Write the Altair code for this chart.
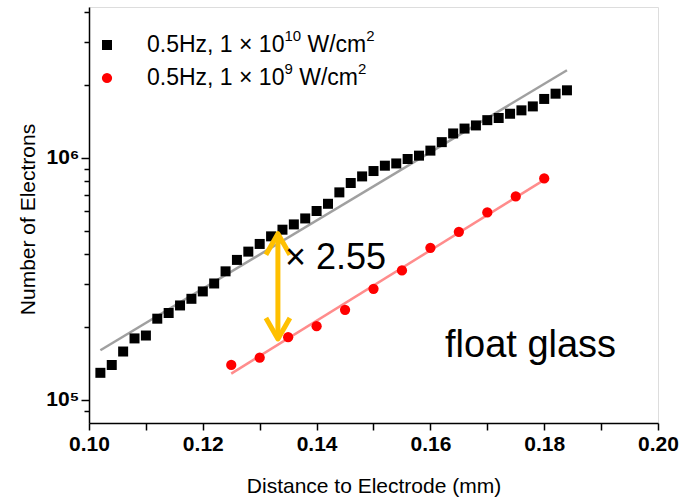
import altair as alt
import pandas as pd

# Electron counts vs. distance, 1e10 W/cm^2 pulses (black squares)
dist_high = [0.102, 0.104, 0.106, 0.108, 0.110, 0.112, 0.114, 0.116, 0.118, 0.120,
             0.122, 0.124, 0.126, 0.128, 0.130, 0.132, 0.134, 0.136, 0.138, 0.140,
             0.142, 0.144, 0.146, 0.148, 0.150, 0.152, 0.154, 0.156, 0.158, 0.160,
             0.162, 0.164, 0.166, 0.168, 0.170, 0.172, 0.174, 0.176, 0.178, 0.180,
             0.182, 0.184]
elec_high = [1.29e5, 1.39e5, 1.58e5, 1.79e5, 1.84e5, 2.16e5, 2.28e5, 2.45e5, 2.61e5, 2.80e5,
             3.02e5, 3.39e5, 3.78e5, 4.09e5, 4.40e5, 4.73e5, 5.04e5, 5.30e5, 5.61e5, 6.02e5,
             6.45e5, 7.19e5, 7.86e5, 8.37e5, 8.81e5, 9.27e5, 9.47e5, 9.88e5, 1.02e6, 1.07e6,
             1.16e6, 1.26e6, 1.32e6, 1.36e6, 1.43e6, 1.46e6, 1.52e6, 1.57e6, 1.63e6, 1.75e6,
             1.84e6, 1.90e6]

# Electron counts vs. distance, 1e9 W/cm^2 pulses (red circles)
dist_low = [0.125, 0.130, 0.135, 0.140, 0.145, 0.150, 0.155, 0.160, 0.165, 0.170, 0.175, 0.180]
elec_low = [1.39e5, 1.49e5, 1.81e5, 2.01e5, 2.35e5, 2.87e5, 3.42e5, 4.24e5, 4.94e5, 5.94e5,
            6.92e5, 8.21e5]

# Exponential fit lines (end points)
fit_high_x = [0.102, 0.184]
fit_high_y = [1.60e5, 2.30e6]
fit_low_x = [0.125, 0.180]
fit_low_y = [1.28e5, 8.10e5]

# Ratio arrow between the two series
arrow_x = [0.1332, 0.1332]
arrow_y = [4.85e5, 1.78e5]
ratio_label = "\u00d7 2.55"
sample_label = "float glass"

legend_entries = [
    [("0.5Hz, 1 \u00d7 10", False), ("10", True), (" W/cm", False), ("2", True)],
    [("0.5Hz, 1 \u00d7 10", False), ("9", True), (" W/cm", False), ("2", True)],
]

x_ticks = [0.10, 0.11, 0.12, 0.13, 0.14, 0.15, 0.16, 0.17, 0.18, 0.19, 0.20]
y_ticks = [9e4, 1e5, 2e5, 3e5, 4e5, 5e5, 6e5, 7e5, 8e5, 9e5, 1e6, 2e6, 3e6, 4e6]

FONT = "Liberation Sans"
W_PLOT, H_PLOT = 569, 416

x_scale = alt.Scale(domain=[0.10, 0.20], nice=False, zero=False)
y_scale = alt.Scale(type="log", domain=[8e4, 4.2e6], nice=False)

x_axis = alt.Axis(
    values=x_ticks,
    labelExpr="round(datum.value * 100) % 2 == 0 ? format(datum.value, '.2f') : ''",
    title="Distance to Electrode (mm)",
    titleFont=FONT, titleFontSize=21, titleFontWeight="normal", titleColor="black",
    titleY=63, titleBaseline="middle",
    labelFont=FONT, labelFontSize=21, labelFontWeight="bold", labelColor="black",
    labelPadding=3, labelOverlap=False, labelFlush=False,
    tickSize=7, tickWidth=1.5, tickColor="black",
    domainColor="black", domainWidth=1.5, grid=False,
)
y_axis = alt.Axis(
    values=y_ticks,
    labelExpr="datum.value == 100000 ? '10\u2075' : datum.value == 1000000 ? '10\u2076' : ''",
    title="Number of Electrons",
    titleFont=FONT, titleFontSize=21, titleFontWeight="normal", titleColor="black",
    titleX=-61, titleY=212, titleAlign="center", titleBaseline="middle",
    labelFont=FONT, labelFontSize=21, labelFontWeight="bold", labelColor="black",
    labelPadding=2, labelOverlap=False, labelFlush=False,
    tickSize={"condition": {"test": "datum.value == 100000 || datum.value == 1000000",
                            "value": 8}, "value": 5},
    tickWidth=1.5, tickColor="black",
    domainColor="black", domainWidth=1.5, grid=False,
)

high = pd.DataFrame({"d": dist_high, "n": elec_high})
low = pd.DataFrame({"d": dist_low, "n": elec_low})
fit_high = pd.DataFrame({"d": fit_high_x, "n": fit_high_y})
fit_low = pd.DataFrame({"d": fit_low_x, "n": fit_low_y})
arrow = pd.DataFrame({"d": arrow_x, "n": arrow_y})

Y = alt.Y("n:Q", scale=y_scale, axis=y_axis)

fit_high_line = alt.Chart(fit_high).mark_line(color="#a0a0a0", strokeWidth=2.5).encode(
    x=alt.X("d:Q", scale=x_scale, axis=x_axis), y=Y)
fit_low_line = alt.Chart(fit_low).mark_line(color="#ff8c8c", strokeWidth=2.5).encode(
    x="d:Q", y="n:Q")
high_pts = alt.Chart(high).mark_square(color="black", size=100, opacity=1).encode(
    x="d:Q", y="n:Q")
low_pts = alt.Chart(low).mark_circle(color="#ff0000", size=105, opacity=1).encode(
    x="d:Q", y="n:Q")

ARROW_COLOR = "#ffc000"
shaft = alt.Chart(arrow).mark_line(color=ARROW_COLOR, strokeWidth=5).encode(
    x="d:Q", y="n:Q")
head_top = alt.Chart(arrow.iloc[[0]]).mark_point(
    shape="M-1,1.75L0,0L1,1.75", size=576, filled=False, color=ARROW_COLOR,
    strokeWidth=5, strokeJoin="round", strokeCap="butt", opacity=1).encode(
    x="d:Q", y="n:Q")
head_bot = alt.Chart(arrow.iloc[[1]]).mark_point(
    shape="M-1,-1.75L0,0L1,-1.75", size=576, filled=False, color=ARROW_COLOR,
    strokeWidth=5, strokeJoin="round", strokeCap="butt", opacity=1).encode(
    x="d:Q", y="n:Q")

one = pd.DataFrame({"k": [0]})


def label(text, px, py, size, align="left"):
    return alt.Chart(one).mark_text(
        text=text, font=FONT, fontSize=size, color="black", align=align,
        baseline="middle").encode(x=alt.value(px), y=alt.value(py))


ratio_text = label(ratio_label, 196, 251, 36)
glass_text = label(sample_label, 356, 339, 38)

# Arial-compatible advance widths (per 1000 em) for the legend text
ADV = {"0": 556, "1": 556, "2": 556, "5": 556, "9": 556, ".": 278, ",": 278, " ": 278,
       "H": 722, "z": 500, "\u00d7": 584, "W": 944, "/": 278, "c": 500, "m": 833}


def text_width(s, size):
    return sum(ADV.get(c, 556) for c in s) / 1000.0 * size


LEG_SIZE, SUP_SIZE = 23, 15
legend_layers = []
legend_rows = [38, 71]
for row_y, pieces in zip(legend_rows, legend_entries):
    cx = 58
    for txt, sup in pieces:
        size = SUP_SIZE if sup else LEG_SIZE
        dy = -9 if sup else 0
        # leading blanks are dropped by SVG text, so advance past them here
        stripped = txt.lstrip(" ")
        cx += text_width(txt[: len(txt) - len(stripped)], size)
        legend_layers.append(label(stripped, cx, row_y + dy, size))
        cx += text_width(stripped, size)

leg_square = alt.Chart(one).mark_square(color="black", size=100, opacity=1).encode(
    x=alt.value(18), y=alt.value(legend_rows[0]))
leg_circle = alt.Chart(one).mark_circle(color="#ff0000", size=105, opacity=1).encode(
    x=alt.value(18), y=alt.value(legend_rows[1]))

chart = alt.layer(
    fit_high_line, fit_low_line, high_pts, low_pts, shaft, head_top, head_bot,
    ratio_text, glass_text, leg_square, leg_circle, *legend_layers,
).properties(
    width=W_PLOT, height=H_PLOT,
    autosize=alt.AutoSizeParams(type="none"),
    padding={"left": 89, "top": 7, "right": 21, "bottom": 75},
).configure_view(stroke=None).configure(background="white")

chart.save("out.html", embed_options={"renderer": "svg", "actions": False})
